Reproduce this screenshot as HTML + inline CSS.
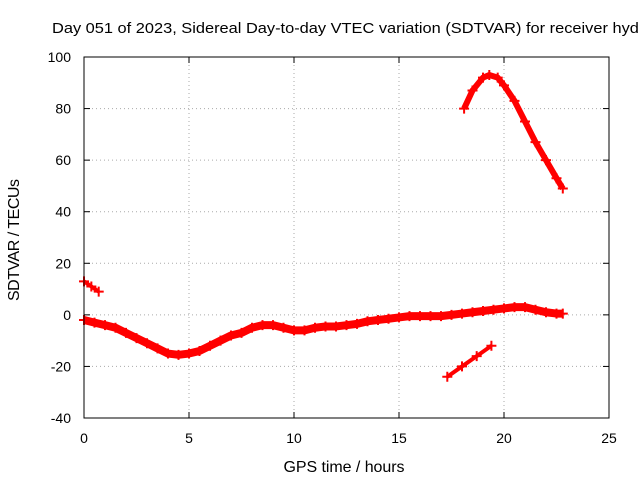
<!DOCTYPE html>
<html><head><meta charset="utf-8"><style>
body{margin:0;background:#fff}
svg{display:block;font-family:"Liberation Sans",sans-serif}
</style></head><body>
<svg id="chart" width="640" height="480">
<text x="52" y="33" font-size="15" textLength="596" lengthAdjust="spacingAndGlyphs">Day 051 of 2023, Sidereal Day-to-day VTEC variation (SDTVAR) for receiver hydn</text>
<g id="grid"></g>
<g id="series"></g>
<rect x="84" y="57" width="525" height="361" fill="none" stroke="#000" stroke-width="1"/>
<g id="ticks"></g>
<text x="344" y="472" font-size="16" text-anchor="middle" textLength="121">GPS time / hours</text>
<text transform="translate(19,240) rotate(-90)" font-size="16" text-anchor="middle" textLength="122">SDTVAR / TECUs</text>
</svg>
<script>
const xTicks=[0,5,10,15,20,25];
const yTicks=[-40,-20,0,20,40,60,80,100];
const mainT=[0,0.5,1,1.5,2,2.5,3,3.5,4,4.5,5,5.5,6,6.5,7,7.5,8,8.5,9,9.5,10,10.5,11,11.5,12,12.5,13,13.5,14,14.5,15,15.5,16,16.5,17,17.5,18,18.5,19,19.5,20,20.5,21,21.5,22,22.5,22.8];
const mainV=[-2,-3,-4,-5,-7,-9,-11,-13,-15,-15.5,-15,-14,-12,-10,-8,-7,-5,-4,-4,-5,-6,-6,-5,-4.5,-4.5,-4,-3.5,-2.5,-2,-1.5,-1,-0.5,-0.5,-0.5,-0.5,0,0.5,1,1.5,2,2.5,3,3,2,1,0.5,0.5];
const seg2T=[0,0.35,0.7];
const seg2V=[13,11,9];
const seg3T=[17.3,18,18.7,19.4];
const seg3V=[-24,-20,-16,-12];
const seg4T=[18.1,18.5,19,19.3,19.7,20,20.5,21,21.5,22,22.5,22.8];
const seg4V=[80,87,92,93,92,89,83,75,67,60,53,49];
const X=t=>84+t*21, Y=v=>57+(100-v)*361/140;
const NS="http://www.w3.org/2000/svg";
const grid=document.getElementById('grid'),ticks=document.getElementById('ticks'),ser=document.getElementById('series');
function mk(tag,attrs,parent){const e=document.createElementNS(NS,tag);for(const k in attrs)e.setAttribute(k,attrs[k]);parent.appendChild(e);return e;}
xTicks.forEach(t=>{
 if(t>0&&t<25){const l=mk('line',{x1:X(t),x2:X(t),y1:57,y2:418,stroke:'#aaa','stroke-dasharray':'1,3'},grid);
 
 }
 const tx=mk('text',{x:X(t),y:443,'font-size':14,'text-anchor':'middle'},ticks);tx.textContent=t;
 
 
 mk('line',{x1:X(t),x2:X(t),y1:418,y2:412,stroke:'#000'},ticks);
 mk('line',{x1:X(t),x2:X(t),y1:57,y2:63,stroke:'#000'},ticks);
});
yTicks.forEach(v=>{
 if(v>-40&&v<100){const l=mk('line',{x1:84,x2:609,y1:Y(v),y2:Y(v),stroke:'#aaa','stroke-dasharray':'1,3'},grid);
 
 }
 const tx=mk('text',{x:71,y:Y(v)+5,'font-size':14,'text-anchor':'end'},ticks);tx.textContent=v;
 
 
 mk('line',{x1:84,x2:90,y1:Y(v),y2:Y(v),stroke:'#000'},ticks);
 mk('line',{x1:609,x2:603,y1:Y(v),y2:Y(v),stroke:'#000'},ticks);
});
function series(T,V,name,w){
 const g=mk('g',{},ser);
 
 
 mk('polyline',{points:T.map((t,i)=>X(t)+','+Y(V[i])).join(' '),fill:'none',stroke:'#f00','stroke-width':w,'stroke-linejoin':'round'},g);
 T.forEach((t,i)=>{const x=X(t),y=Y(V[i]);
  mk('path',{d:`M${x-5},${y}h10M${x},${y-5}v10`,stroke:'#f00','stroke-width':2},g);});
}
series(mainT,mainV,'series-main',8);
series(seg2T,seg2V,'series-early',4);
series(seg3T,seg3V,'series-low',4);
series(seg4T,seg4V,'series-high',6);
</script>
</body></html>
